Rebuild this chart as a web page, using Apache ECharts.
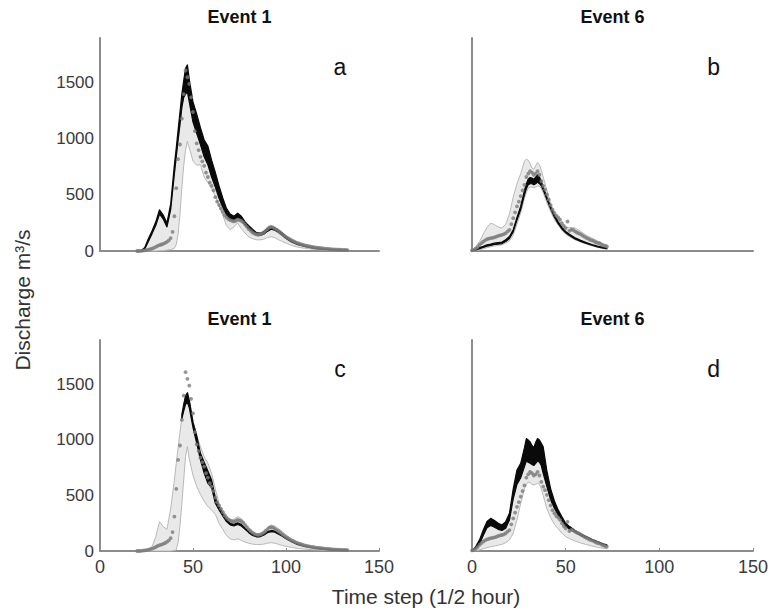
<!DOCTYPE html>
<html><head><meta charset="utf-8">
<script src="https://cdn.jsdelivr.net/npm/echarts@6/dist/echarts.min.js"></script>
<style>html,body{margin:0;padding:0;background:#fff}#c{width:771px;height:611px}</style>
</head><body><div id="c"></div>
<script>
// ---- text ----
const tickLabelsX = [0, 50, 100, 150];
const tickLabelsY = [0, 500, 1000, 1500];
const panelTitles = ['Event 1', 'Event 6', 'Event 1', 'Event 6'];
const panelLetters = ['a', 'b', 'c', 'd'];
const xAxisName = 'Time step (1/2 hour)';
const yAxisName = 'Discharge m³/s';

// ---- observed discharge (dots), one per time step ----
const obs1Start = 20;
const obs1 = [0,0,1,3,5,8,12,16,22,28,
  36,45,52,58,64,72,82,95,115,170,
  310,560,820,950,1180,1400,1610,1550,1490,1370,
  1240,1070,960,900,840,800,760,700,660,610,
  580,540,480,440,410,380,350,320,300,285,
  275,268,265,270,280,275,268,255,235,215,
  195,180,165,155,148,145,148,155,165,180,
  195,210,215,210,200,190,178,165,150,138,
  125,115,105,96,88,80,73,67,61,56,
  51,47,43,40,37,34,31,29,27,25,
  23,21,19,18,16,15,14,13,12,11,
  10,9,9,8];
const obs6Start = 0;
const obs6 = [5,10,20,35,55,70,84,95,105,110,
  115,118,122,128,135,140,144,150,160,175,
  188,240,293,345,398,440,490,540,590,660,
  690,712,700,680,690,712,680,622,580,548,
  505,458,410,368,340,315,300,280,249,225,
  205,263,180,190,188,175,165,158,150,138,
  128,118,110,100,95,88,78,72,69,60,
  50,45,40];

// ---- Event 1 bands (panels a, c) ----
const t1 = [20,22,24,26,28,30,32,34,36,38,40,41,42,43,44,45,46,47,48,50,52,54,56,58,60,62,64,66,68,70,72,74,76,78,80,82,84,86,88,90,92,94,96,98,100,103,106,110,115,120,125,130,133];
const blackHiA = [0,2,30,110,180,260,368,320,250,420,770,920,1080,1240,1400,1520,1630,1660,1530,1330,1220,1100,990,936,810,700,580,473,380,330,310,338,310,260,225,195,165,160,172,200,218,205,185,160,130,95,70,48,32,20,13,9,7];
const blackLoA = [0,0,15,85,155,230,330,285,215,370,690,840,990,1130,1280,1370,1400,1420,1330,1150,1050,950,840,770,660,570,470,390,320,285,275,300,278,232,198,170,145,140,150,175,195,185,165,140,112,80,58,40,26,16,10,6,5];
const lightLoA = [0,0,0,0,0,0,2,4,8,12,25,60,150,330,560,760,900,980,920,802,765,770,660,610,560,490,400,320,225,190,215,249,200,160,125,110,100,99,105,120,128,118,100,85,70,50,36,24,15,10,6,4,3];
const lightHiC = [0,0,5,12,40,130,264,219,195,380,640,789,930,1070,1200,1300,1390,1425,1360,1170,1040,940,850,790,700,560,430,370,320,270,285,310,290,240,200,165,150,150,170,210,235,225,200,175,145,110,80,55,35,22,14,9,7];
const lightLoC = [0,0,0,0,0,0,0,0,0,0,5,10,80,230,420,640,850,940,830,680,580,510,450,400,370,330,250,195,140,110,100,110,95,80,70,62,58,58,62,70,75,70,60,50,42,32,24,17,11,7,4,3,2];
const blackHiC = [null,null,null,null,null,null,null,null,null,null,null,null,null,null,1230,1320,1400,1425,1360,1160,1040,880,800,720,640,480,400,340,290,250,240,255,240,205,175,150,135,135,150,175,185,180,160,140,118,90,66,45,30,19,12,8,6];
const blackLoC = [null,null,null,null,null,null,null,null,null,null,null,null,null,null,1190,1260,1320,1340,1290,1110,970,820,700,610,570,430,370,315,265,235,225,240,225,195,165,140,128,128,142,165,175,170,152,132,110,84,60,41,27,17,11,7,5];

// ---- Event 6 bands (panels b, d) ----
const t6 = [0,2,4,6,8,10,12,14,16,18,20,22,24,26,28,29,30,31,32,33,34,35,36,37,38,40,42,44,46,48,50,52,55,58,61,64,67,70,72];
const lightHiB = [5,40,84,150,210,249,235,215,204,240,330,480,600,690,800,820,810,780,740,730,760,790,770,720,660,540,420,350,285,230,210,210,205,175,140,115,90,65,55];
const lightLoB = [0,3,10,20,30,38,45,50,55,70,90,140,240,340,470,520,560,570,570,565,570,580,580,555,520,430,350,280,230,185,150,128,100,80,62,46,33,22,15];
const blackHiB = [2,15,30,42,55,62,70,75,80,100,130,190,300,400,540,600,640,655,650,640,660,680,660,620,570,480,395,320,260,210,175,150,118,95,75,58,43,32,26];
const blackLoB = [0,8,20,32,44,50,58,62,66,85,112,170,275,370,500,555,590,600,600,590,600,615,600,580,545,460,375,302,244,196,162,138,108,86,67,51,37,26,20];
const blackHiD = [2,40,100,189,265,294,275,250,234,265,340,560,730,790,930,1013,1000,983,950,930,980,1013,1000,970,938,720,560,450,370,309,250,222,185,155,130,105,85,65,55];
const blackLoD = [0,25,60,140,210,230,215,195,185,205,280,470,600,660,760,810,800,790,780,770,790,810,800,770,700,580,460,385,325,272,222,198,168,140,117,94,75,57,48];
const lightLoD = [0,3,10,20,30,38,45,52,60,75,100,160,280,430,560,600,620,615,600,595,600,610,600,560,500,380,300,240,200,160,130,112,90,72,58,45,34,25,20];

const LIGHT_FILL = '#e9e9e9', LIGHT_EDGE = '#b9b9b9', BLACK = '#0a0a0a', DOT = '#7b7b7b', AXIS = '#8c8c8c';
const FONT = '"Liberation Sans", Arial, Helvetica, sans-serif';

const grids = [
  {left: 100, top: 38, width: 279, height: 213},
  {left: 472, top: 38, width: 281, height: 213},
  {left: 100, top: 340, width: 279, height: 211},
  {left: 472, top: 340, width: 281, height: 211}
];

function band(gi, t, hi, lo, fill, stroke, lw, z) {
  return {
    type: 'custom', coordinateSystem: 'cartesian2d', xAxisIndex: gi, yAxisIndex: gi,
    z: z, silent: true, clip: false, data: [[t[0], 0]],
    renderItem: function (params, api) {
      const up = [], dn = [];
      for (let i = 0; i < t.length; i++) {
        if (hi[i] == null || lo[i] == null) continue;
        up.push(api.coord([t[i], hi[i]]));
        dn.push(api.coord([t[i], lo[i]]));
      }
      return {type: 'polygon', shape: {points: up.concat(dn.reverse())},
        style: {fill: fill, stroke: stroke, lineWidth: lw, lineJoin: 'round'}};
    }
  };
}
function dots(gi, start, vals) {
  return {
    type: 'scatter', xAxisIndex: gi, yAxisIndex: gi, z: 5, silent: true,
    symbol: 'circle', symbolSize: 3.8, itemStyle: {color: DOT},
    data: vals.map((v, i) => [start + i, v])
  };
}

const xAxes = grids.map((g, i) => ({
  type: 'value', gridIndex: i, min: 0, max: 150, interval: 50,
  axisLine: {show: true, onZero: false, lineStyle: {color: AXIS, width: 2}},
  axisTick: {show: i >= 2, inside: true, length: 3, lineStyle: {color: AXIS}},
  axisLabel: {show: i >= 2, fontSize: 18, color: '#3a3a3a', margin: 7, fontFamily: FONT,
    formatter: v => tickLabelsX.includes(v) ? String(v) : ''},
  splitLine: {show: false}
}));
const yAxes = grids.map((g, i) => ({
  type: 'value', gridIndex: i, min: 0, max: 1900, interval: 500,
  axisLine: {show: true, onZero: false, lineStyle: {color: AXIS, width: 2}},
  axisTick: {show: false},
  axisLabel: {show: i % 2 === 0, fontSize: 17, color: '#3a3a3a', margin: 6, fontFamily: FONT,
    formatter: v => tickLabelsY.includes(v) ? String(v) : ''},
  splitLine: {show: false}
}));

const series = [
  band(0, t1, blackLoA, lightLoA, LIGHT_FILL, LIGHT_EDGE, 1, 1),
  band(0, t1, blackHiA, blackLoA, BLACK, BLACK, 1.2, 2),
  dots(0, obs1Start, obs1),
  band(1, t6, lightHiB, lightLoB, LIGHT_FILL, LIGHT_EDGE, 1, 1),
  band(1, t6, blackHiB, blackLoB, BLACK, BLACK, 1.2, 2),
  dots(1, obs6Start, obs6),
  band(2, t1, lightHiC, lightLoC, LIGHT_FILL, LIGHT_EDGE, 1, 1),
  band(2, t1, blackHiC, blackLoC, BLACK, BLACK, 1.2, 2),
  dots(2, obs1Start, obs1),
  band(3, t6, blackLoD, lightLoD, LIGHT_FILL, LIGHT_EDGE, 1, 1),
  band(3, t6, blackHiD, blackLoD, BLACK, BLACK, 1.2, 2),
  dots(3, obs6Start, obs6)
];

const graphic = [];
grids.forEach((g, i) => {
  graphic.push({type: 'text', x: g.left + g.width / 2, y: g.top - 21,
    style: {text: panelTitles[i], fontSize: 18, fontWeight: 'bold', fill: '#111', fontFamily: FONT,
      align: 'center', verticalAlign: 'middle'}});
  graphic.push({type: 'text', x: g.left + g.width * 0.86, y: g.top + 29,
    style: {text: panelLetters[i], fontSize: 23, fill: '#111', fontFamily: FONT,
      align: 'center', verticalAlign: 'middle'}});
});
graphic.push({type: 'text', x: 426, y: 596,
  style: {text: xAxisName, fontSize: 21, fill: '#333', fontFamily: FONT, align: 'center', verticalAlign: 'middle'}});
graphic.push({type: 'text', x: 22, y: 300, rotation: Math.PI / 2,
  style: {text: yAxisName, fontSize: 21, fill: '#333', fontFamily: FONT, align: 'center', verticalAlign: 'middle'}});

const chart = echarts.init(document.getElementById('c'), null, {renderer: 'svg', width: 771, height: 611});
chart.setOption({
  animation: false,
  backgroundColor: '#fff',
  textStyle: {fontFamily: FONT},
  grid: grids.map(g => Object.assign({containLabel: false}, g)),
  xAxis: xAxes, yAxis: yAxes,
  series: series,
  graphic: graphic
});
</script></body></html>
